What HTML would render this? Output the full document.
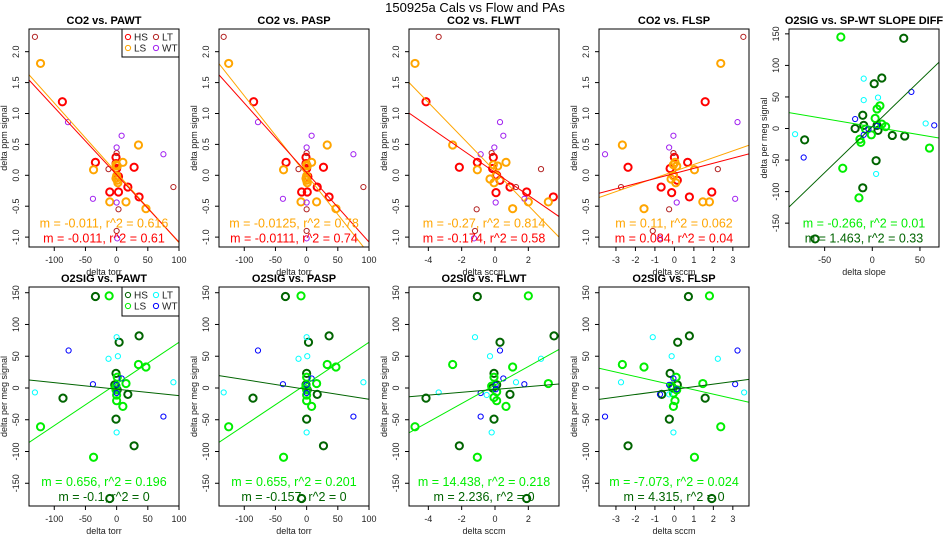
<!DOCTYPE html>
<html><head><meta charset="utf-8"><style>
html,body{margin:0;padding:0;background:#fff;overflow:hidden;width:950px;height:550px;}
svg{display:block;font-family:"Liberation Sans",Arial,sans-serif;}
</style></head><body>
<svg id="chart" width="950" height="550" viewBox="0 0 950 550" xmlns="http://www.w3.org/2000/svg">
<rect width="950" height="550" fill="#fff"/>
<text x="475" y="12" text-anchor="middle" font-size="13">150925a   Cals vs Flow and PAs</text>
</svg>
<script>
// ---- CO2 panels data ----
const pawt_hs_x=[-87,-34,-11,3,-1,0,28,18,36,3,-1];
const pawt_hs_y=[1.19,0.21,-0.27,-0.27,0.29,0.11,0.13,-0.19,-0.35,-0.02,0.19];
const pawt_ls_x=[-122,-37,-11,15,10,35,47,-1,1,0,-1,1,2];
const pawt_ls_y=[1.81,0.09,-0.43,-0.43,0.21,0.49,-0.54,0.17,0.15,-0.01,-0.05,-0.08,-0.12];
const pawt_lt_x=[-131,-13,0,91,3,0];
const pawt_lt_y=[2.24,0.1,0.36,-0.19,-0.55,-0.9];
const pawt_wt_x=[-78,8,0,75,-38,0,1];
const pawt_wt_y=[0.86,0.64,0.45,0.34,-0.38,-0.44,-1.02];

const pasp_hs_x=[-85,-33,-8,1,-1,0,27,17,36,2,-1];
const pasp_hs_y=[1.19,0.21,-0.27,-0.27,0.29,0.11,0.13,-0.19,-0.35,-0.02,0.19];
const pasp_ls_x=[-125,-37,-9,16,8,33,47,0,1,0,-1,0,1];
const pasp_ls_y=[1.81,0.09,-0.43,-0.43,0.21,0.49,-0.54,0.17,0.15,-0.01,-0.05,-0.08,-0.12];
const pasp_lt_x=[-133,-13,0,91,0,0];
const pasp_lt_y=[2.24,0.1,0.36,-0.19,-0.55,-0.9];
const pasp_wt_x=[-78,8,0,75,-38,0,0];
const pasp_wt_y=[0.86,0.64,0.45,0.34,-0.38,-0.44,-1.02];

const flwt_hs_x=[-4.14,-2.14,-1.06,-0.1,0.06,0.9,1.9,3.5,0.3,0.1,-0.14];
const flwt_hs_y=[1.19,0.13,0.21,0.29,-0.28,-0.19,-0.27,-0.35,-0.08,0.0,0.11];
const flwt_ls_x=[-4.8,-2.54,-1.06,0.66,0.16,1.06,2,3.2,-0.1,-0.3,-0.06,0.06];
const flwt_ls_y=[1.81,0.49,0.09,0.21,0.15,-0.54,-0.43,-0.43,0.17,-0.06,-0.12,-0.01];
const flwt_lt_x=[-3.38,2.76,-0.2,1.26,-1.1,-1.2];
const flwt_lt_y=[2.24,0.1,0.36,-0.19,-0.55,-0.9];
const flwt_wt_x=[0.3,0.5,-0.04,-0.86,0.04,1.76,-1.26];
const flwt_wt_y=[0.86,0.64,0.45,0.34,-0.44,-0.38,-1.02];

const flsp_hs_x=[1.58,-2.38,0.68,0,-0.14,-0.68,1.92,0.77,0.15,-0.05,-0.22];
const flsp_hs_y=[1.19,0.13,0.21,0.29,-0.28,-0.19,-0.27,-0.35,-0.08,0.0,0.11];
const flsp_ls_x=[2.38,-2.67,1.03,0.03,0.12,-1.56,1.46,1.8,-0.05,-0.17,0.07,-0.05];
const flsp_ls_y=[1.81,0.49,0.09,0.21,0.15,-0.54,-0.43,-0.43,0.17,-0.06,-0.12,-0.01];
const flsp_lt_x=[3.54,2.23,-0.05,-2.74,-0.27,-1.11];
const flsp_lt_y=[2.24,0.1,0.36,-0.19,-0.55,-0.9];
const flsp_wt_x=[3.24,-0.05,-0.27,-3.56,0.12,3.12,-0.74];
const flsp_wt_y=[0.86,0.64,0.45,0.34,-0.44,-0.38,-1.02];

// ---- O2SIG panels data ----
const o_pawt_hs_x=[-34,4,36,-1,-86,18,-1,28,-11,-3,1];
const o_pawt_hs_y=[144,72,82,23,-16,-10,-49,-91,-174,5,-3];
const o_pawt_ls_x=[-12,-122,-37,35,47,15,10,0,0,1,-1,-1];
const o_pawt_ls_y=[145,-61,-109,37,33,7,-29,-20,-11,17,3,-3];
const o_pawt_lt_x=[0,-13,-131,91,0,2];
const o_pawt_lt_y=[80,46,-7,9,-70,50];
const o_pawt_wt_x=[-77,-38,8,75,0,0];
const o_pawt_wt_y=[59,6,15,-45,5,-8];

const o_pasp_hs_x=[-34,3,36,0,-86,17,0,27,-8,-1,1];
const o_pasp_hs_y=[144,72,82,23,-16,-10,-49,-91,-174,5,-3];
const o_pasp_ls_x=[-9,-125,-37,33,47,16,8,0,0,0,-1,0];
const o_pasp_ls_y=[145,-61,-109,37,33,7,-29,-20,-11,17,3,-3];
const o_pasp_lt_x=[0,-13,-133,91,0,1];
const o_pasp_lt_y=[80,46,-7,9,-70,50];
const o_pasp_wt_x=[-78,-38,8,75,0,0];
const o_pasp_wt_y=[59,6,15,-45,5,-8];

const o_flwt_hs_x=[-1.06,0.3,3.54,-0.06,-4.14,0.9,-0.06,-2.14,1.9,0.1,-0.14];
const o_flwt_hs_y=[144,72,82,23,-16,-10,-49,-91,-174,5,0];
const o_flwt_ls_x=[2,-4.8,-1.06,-2.54,1.06,3.2,0.66,0.1,-0.06,-0.06,-0.2,0.1];
const o_flwt_ls_y=[145,-61,-109,37,33,7,-29,-20,-15,17,3,-6];
const o_flwt_lt_x=[-1.2,2.76,-3.38,1.26,-0.2,-0.3,-0.5];
const o_flwt_lt_y=[80,46,-7,9,-70,50,-11];
const o_flwt_wt_x=[0.3,-0.86,0.5,1.76,-0.86,0.04,0.04];
const o_flwt_wt_y=[59,-8,15,6,-45,5,-2];

const o_flsp_hs_x=[0.72,0.17,0.77,-0.22,1.58,-0.65,-0.26,-2.38,1.92,0.15,-0.09];
const o_flsp_hs_y=[144,72,82,23,-16,-10,-49,-91,-174,5,0];
const o_flsp_ls_x=[1.8,2.38,1.03,-2.67,-1.56,1.46,-0.05,0.03,-0.05,0.09,-0.14,0.12];
const o_flsp_ls_y=[145,-61,-109,37,33,7,-29,-20,-8,17,3,-3];
const o_flsp_lt_x=[-1.11,2.23,-2.74,3.58,-0.05,-0.14,-0.27];
const o_flsp_lt_y=[80,46,9,-7,-70,50,-10];
const o_flsp_wt_x=[3.24,-3.56,-0.05,3.12,-0.74,-0.27,0.12];
const o_flsp_wt_y=[59,-45,15,6,-10,5,-2];

const slope_hs_x=[33,2,10,-10,-71,21,4,-10,-60,-18,-9,5,6,34];
const slope_hs_y=[143,71,80,21,-18,-11,-51,-94,-175,0,5,5,-3,-12];
const slope_ls_x=[-33,-31,-14,5,8,3,10,14,60,-13,-12,-1,-7];
const slope_ls_y=[145,-63,-110,31,36,16,7,3,-31,-17,-22,-10,-1];
const slope_lt_x=[-9,-9,6,-81,56,4];
const slope_lt_y=[79,45,49,-9,8,-72];
const slope_wt_x=[41,-72,-18,65,-9,-4,5];
const slope_wt_y=[58,-46,15,5,-10,-1,4];

// ---- fit lines: slope / intercept ----
const fit_slopes=[[-0.0113,-0.0109],[-0.0128,-0.01125],[-0.278,-0.186],[0.11,0.083],
                  [0.656,-0.1025],[0.655,-0.155],[14.6,2.22],[-6.96,4.08],[-0.255,1.458]];
const fit_intercepts=[[0.04,0.01],[0.007,0.045],[0.067,0.047],[0.066,0.03],
                      [6.4,-1.8],[6.4,-2.3],[4.7,-2.3],[4.2,-2.1],[2.8,3]];
const stat_labels=[["m = -0.011, r^2 = 0.616","m = -0.011, r^2 = 0.61"],
 ["m = -0.0125, r^2 = 0.78","m = -0.0111, r^2 = 0.74"],
 ["m = -0.27, r^2 = 0.814","m = -0.174, r^2 = 0.58"],
 ["m = 0.11, r^2 = 0.062","m = 0.084, r^2 = 0.04"],
 ["m = 0.656, r^2 = 0.196","m = -0.1, r^2 = 0"],
 ["m = 0.655, r^2 = 0.201","m = -0.157, r^2 = 0"],
 ["m = 14.438, r^2 = 0.218","m = 2.236, r^2 = 0"],
 ["m = -7.073, r^2 = 0.024","m = 4.315, r^2 = 0"],
 ["m = -0.266, r^2 = 0.01","m = 1.463, r^2 = 0.33"]];
const torr_ticks=[-100,-50,0,50,100];
const flwt_ticks=[-4,-2,0,2];
const flsp_ticks=[-3,-2,-1,0,1,2,3];
const slope_ticks=[-50,0,50];
const co2_ticks=[-1.0,-0.5,0.0,0.5,1.0,1.5,2.0];
const o2_ticks=[-150,-100,-50,0,50,100,150];

const NS="http://www.w3.org/2000/svg";
const svg=document.getElementById('chart');
function mk(tag,attrs,parent){const e=document.createElementNS(NS,tag);for(const k in attrs)e.setAttribute(k,attrs[k]);(parent||svg).appendChild(e);return e;}

const C_TOP={hs:'#ff0000',ls:'#ffa500',lt:'#b22222',wt:'#a020f0'};
const C_BOT={hs:'#006400',ls:'#00ee00',lt:'#00ffff',wt:'#0000ff'};

const panels=[
 {id:'co2-pawt',title:'CO2 vs. PAWT',col:0,row:0,xlim:[-140.5,100],ylim:[-1.16,2.367],xt:torr_ticks,yt:co2_ticks,xlab:'delta torr',ylab:'delta ppm signal',c:C_TOP,legend:true,
  s:[[pawt_hs_x,pawt_hs_y],[pawt_ls_x,pawt_ls_y],[pawt_lt_x,pawt_lt_y],[pawt_wt_x,pawt_wt_y]]},
 {id:'co2-pasp',title:'CO2 vs. PASP',col:1,row:0,xlim:[-140.5,100],ylim:[-1.16,2.367],xt:torr_ticks,yt:co2_ticks,xlab:'delta torr',ylab:'delta ppm signal',c:C_TOP,
  s:[[pasp_hs_x,pasp_hs_y],[pasp_ls_x,pasp_ls_y],[pasp_lt_x,pasp_lt_y],[pasp_wt_x,pasp_wt_y]]},
 {id:'co2-flwt',title:'CO2 vs. FLWT',col:2,row:0,xlim:[-5.16,3.84],ylim:[-1.16,2.367],xt:flwt_ticks,yt:co2_ticks,xlab:'delta sccm',ylab:'delta ppm signal',c:C_TOP,
  s:[[flwt_hs_x,flwt_hs_y],[flwt_ls_x,flwt_ls_y],[flwt_lt_x,flwt_lt_y],[flwt_wt_x,flwt_wt_y]]},
 {id:'co2-flsp',title:'CO2 vs. FLSP',col:3,row:0,xlim:[-3.87,3.83],ylim:[-1.16,2.367],xt:flsp_ticks,yt:co2_ticks,xlab:'delta sccm',ylab:'delta ppm signal',c:C_TOP,
  s:[[flsp_hs_x,flsp_hs_y],[flsp_ls_x,flsp_ls_y],[flsp_lt_x,flsp_lt_y],[flsp_wt_x,flsp_wt_y]]},
 {id:'o2-pawt',title:'O2SIG vs. PAWT',col:0,row:1,xlim:[-140.5,100],ylim:[-185.8,159],xt:torr_ticks,yt:o2_ticks,xlab:'delta torr',ylab:'delta per meg signal',c:C_BOT,legend:true,
  s:[[o_pawt_hs_x,o_pawt_hs_y],[o_pawt_ls_x,o_pawt_ls_y],[o_pawt_lt_x,o_pawt_lt_y],[o_pawt_wt_x,o_pawt_wt_y]]},
 {id:'o2-pasp',title:'O2SIG vs. PASP',col:1,row:1,xlim:[-140.5,100],ylim:[-185.8,159],xt:torr_ticks,yt:o2_ticks,xlab:'delta torr',ylab:'delta per meg signal',c:C_BOT,
  s:[[o_pasp_hs_x,o_pasp_hs_y],[o_pasp_ls_x,o_pasp_ls_y],[o_pasp_lt_x,o_pasp_lt_y],[o_pasp_wt_x,o_pasp_wt_y]]},
 {id:'o2-flwt',title:'O2SIG vs. FLWT',col:2,row:1,xlim:[-5.16,3.84],ylim:[-185.8,159],xt:flwt_ticks,yt:o2_ticks,xlab:'delta sccm',ylab:'delta per meg signal',c:C_BOT,
  s:[[o_flwt_hs_x,o_flwt_hs_y],[o_flwt_ls_x,o_flwt_ls_y],[o_flwt_lt_x,o_flwt_lt_y],[o_flwt_wt_x,o_flwt_wt_y]]},
 {id:'o2-flsp',title:'O2SIG vs. FLSP',col:3,row:1,xlim:[-3.87,3.83],ylim:[-185.8,159],xt:flsp_ticks,yt:o2_ticks,xlab:'delta sccm',ylab:'delta per meg signal',c:C_BOT,
  s:[[o_flsp_hs_x,o_flsp_hs_y],[o_flsp_ls_x,o_flsp_ls_y],[o_flsp_lt_x,o_flsp_lt_y],[o_flsp_wt_x,o_flsp_wt_y]]},
 {id:'o2-slope',title:'O2SIG vs. SP-WT SLOPE DIFF',col:4,row:0,xlim:[-87.4,70],ylim:[-187.8,157.7],xt:slope_ticks,yt:o2_ticks,xlab:'delta slope',ylab:'delta per meg signal',c:C_BOT,
  s:[[slope_hs_x,slope_hs_y],[slope_ls_x,slope_ls_y],[slope_lt_x,slope_lt_y],[slope_wt_x,slope_wt_y]]}
];
const keys=['hs','ls','lt','wt'];

panels.forEach((p,pi)=>{
  const L=29+190*p.col, R=L+150;
  const T=p.row===0?29:287, B=p.row===0?247:506;
  const sx=v=>L+(v-p.xlim[0])/(p.xlim[1]-p.xlim[0])*(R-L);
  const sy=v=>B-(v-p.ylim[0])/(p.ylim[1]-p.ylim[0])*(B-T);
  const isCO2=p.id.startsWith('co2');
  const g=mk('g',{});
  
  
  const cp=mk('clipPath',{id:'clip'+pi},g);
  mk('rect',{x:L,y:T,width:R-L,height:B-T},cp);
  const t=mk('text',{x:(L+R)/2,y:T-5,'text-anchor':'middle','font-size':11,'font-weight':'bold'},g);
  t.textContent=p.title;
  
  
  p.xt.forEach(v=>{
    const x=sx(v);
    const tk=mk('line',{x1:x,x2:x,y1:B,y2:B+4,stroke:'#000'},g);
    
    
    const tl=mk('text',{x:x,y:B+16,'text-anchor':'middle','font-size':9,fill:'#222'},g);
    tl.textContent=String(v);
    
    
  });
  p.yt.forEach(v=>{
    const y=sy(v);
    const tk=mk('line',{x1:L-4,x2:L,y1:y,y2:y,stroke:'#000'},g);
    
    
    const tl=mk('text',{x:L-10,y:y,'text-anchor':'middle','font-size':9,fill:'#222',transform:`rotate(-90 ${L-10} ${y})`},g);
    tl.textContent=isCO2?v.toFixed(1):String(v);
    
    
  });
  const xl=mk('text',{x:(L+R)/2,y:B+28,'text-anchor':'middle','font-size':9,fill:'#222'},g);
  xl.textContent=p.xlab;
  
  
  const yx=L-22, yy=(T+B)/2;
  const yl=mk('text',{x:yx,y:yy,'text-anchor':'middle','font-size':9,fill:'#222',transform:`rotate(-90 ${yx} ${yy})`},g);
  yl.textContent=p.ylab;
  
  
  const cg=mk('g',{'clip-path':`url(#clip${pi})`},g);
  p.s.forEach((ser,si)=>{
    const k=keys[si], thick=si<2;
    ser[0].forEach((xv,i)=>{
      const c=mk('circle',{cx:sx(xv),cy:sy(ser[1][i]),r:thick?3.6:2.6,fill:'none',stroke:p.c[k],'stroke-width':thick?2:1},cg);
      
      
    });
  });
  const fcol=[p.c.ls,p.c.hs];
  [0,1].forEach(j=>{
    const m=fit_slopes[pi][j], b=fit_intercepts[pi][j];
    const x0=p.xlim[0], x1=p.xlim[1];
    const ln=mk('line',{x1:sx(x0),y1:sy(m*x0+b),x2:sx(x1),y2:sy(m*x1+b),stroke:fcol[j],'stroke-width':1},cg);
    
    
  });
  const sy0=(p.row===0?222.5:481);
  [0,1].forEach(j=>{
    const st=mk('text',{x:(L+R)/2,y:sy0+15*j+5,'text-anchor':'middle','font-size':12.5,fill:fcol[j]},g);
    st.textContent=stat_labels[pi][j];
    
    
  });
  const bx=mk('rect',{x:L,y:T,width:R-L,height:B-T,fill:'none',stroke:'#000','stroke-width':1},g);
  
  
  if(p.legend){
    const lg=mk('g',{},g);
    
    
    mk('rect',{x:R-57,y:T,width:57,height:p.row===0?28:29,fill:'#fff',stroke:'#000'},lg);
    const names=['HS','LS','LT','WT'];
    names.forEach((n,i)=>{
      const cx=R-51+(i>=2?28:0), cy=T+8+(i%2)*11;
      const c=mk('circle',{cx:cx,cy:cy,r:2.6,fill:'none',stroke:p.c[keys[i]],'stroke-width':1},lg);
      
      
      const tx=mk('text',{x:cx+6,y:cy+3.5,'font-size':10,fill:'#222'},lg);
      tx.textContent=n;
      
      
    });
  }
});
</script>
</body></html>
